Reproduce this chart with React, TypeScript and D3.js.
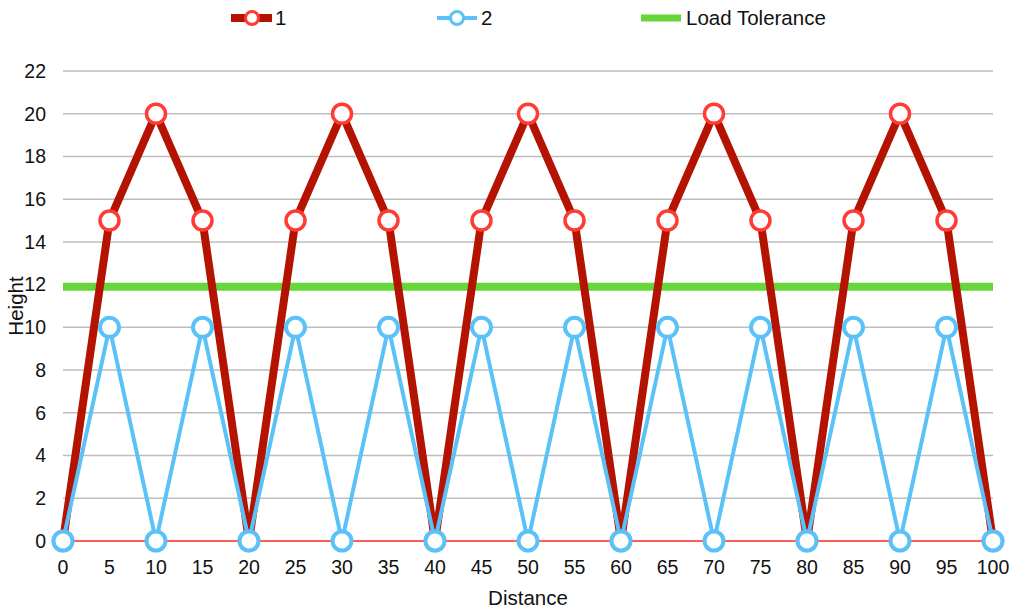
import React from "react";
import * as d3 from "d3";

const distances = [0, 5, 10, 15, 20, 25, 30, 35, 40, 45, 50, 55, 60, 65, 70, 75, 80, 85, 90, 95, 100];
const series1 = [0, 15, 20, 15, 0, 15, 20, 15, 0, 15, 20, 15, 0, 15, 20, 15, 0, 15, 20, 15, 0];
const series2 = [0, 10, 0, 10, 0, 10, 0, 10, 0, 10, 0, 10, 0, 10, 0, 10, 0, 10, 0, 10, 0];
const loadTolerance = 11.9;
const yTicks = [0, 2, 4, 6, 8, 10, 12, 14, 16, 18, 20, 22];
const xTicks = distances;

const W = 1024;
const H = 616;
const FONT = "'Liberation Sans', Arial, sans-serif";

export default function App() {
  const x = d3.scaleLinear().domain([0, 100]).range([63, 993]);
  const y = d3.scaleLinear().domain([0, 22]).range([541, 71]);
  const line = d3
    .line<number>()
    .x((_, i) => x(distances[i]))
    .y((d) => y(d));

  const red = "#b31300";
  const redMarker = "#ff3b33";
  const blue = "#5bc2f7";
  const green = "#66d63a";
  const tickFs = 19.5;
  const titleFs = 20.5;

  return (
    <svg width={W} height={H} style={{ position: "absolute", left: 0, top: 0 }} fontFamily={FONT}>
      <rect width={W} height={H} fill="#fff" />
      {yTicks.map((t) => (
        <g key={t}>
          {t !== 0 && (
            <line x1={x(0)} x2={x(100)} y1={y(t)} y2={y(t)} stroke="#bdbdbd" strokeWidth={1.5} />
          )}
          <text x={46} y={y(t)} dy="0.35em" textAnchor="end" fontSize={tickFs} fill="#111">
            {t}
          </text>
        </g>
      ))}
      {xTicks.map((t) => (
        <text key={t} x={x(t)} y={574} textAnchor="middle" fontSize={tickFs} fill="#111">
          {t}
        </text>
      ))}
      <line x1={x(0)} x2={x(100)} y1={y(0)} y2={y(0)} stroke="#ff2a1a" strokeWidth={1.5} />
      <line
        x1={x(0)}
        x2={x(100)}
        y1={y(loadTolerance)}
        y2={y(loadTolerance)}
        stroke={green}
        strokeWidth={8}
      />
      <path d={line(series1) || ""} fill="none" stroke={red} strokeWidth={8} strokeLinejoin="miter" />
      {series1.map((v, i) => (
        <circle key={i} cx={x(distances[i])} cy={y(v)} r={9.5} fill="#fff" stroke={redMarker} strokeWidth={3.5} />
      ))}
      <path d={line(series2) || ""} fill="none" stroke={blue} strokeWidth={4} strokeLinejoin="miter" />
      {series2.map((v, i) => (
        <circle key={i} cx={x(distances[i])} cy={y(v)} r={9.5} fill="#fff" stroke={blue} strokeWidth={4} />
      ))}
      <text x={528} y={605} textAnchor="middle" fontSize={titleFs} fill="#111">
        Distance
      </text>
      <text
        transform={`translate(23, 306) rotate(-90)`}
        textAnchor="middle"
        fontSize={titleFs}
        fill="#111"
      >
        Height
      </text>
      {/* Legend */}
      <g>
        <line x1={231} x2={272} y1={18} y2={18} stroke={red} strokeWidth={8} />
        <circle cx={252} cy={18} r={6.5} fill="#fff" stroke={redMarker} strokeWidth={3} />
        <text x={275} y={18} dy="0.35em" fontSize={titleFs} fill="#111">1</text>
        <line x1={437} x2={477} y1={18} y2={18} stroke={blue} strokeWidth={4} />
        <circle cx={457} cy={18} r={6.5} fill="#fff" stroke={blue} strokeWidth={3} />
        <text x={481} y={18} dy="0.35em" fontSize={titleFs} fill="#111">2</text>
        <line x1={641} x2={681} y1={18} y2={18} stroke={green} strokeWidth={7} />
        <text x={686} y={18} dy="0.35em" fontSize={titleFs} fill="#111">Load Tolerance</text>
      </g>
    </svg>
  );
}
